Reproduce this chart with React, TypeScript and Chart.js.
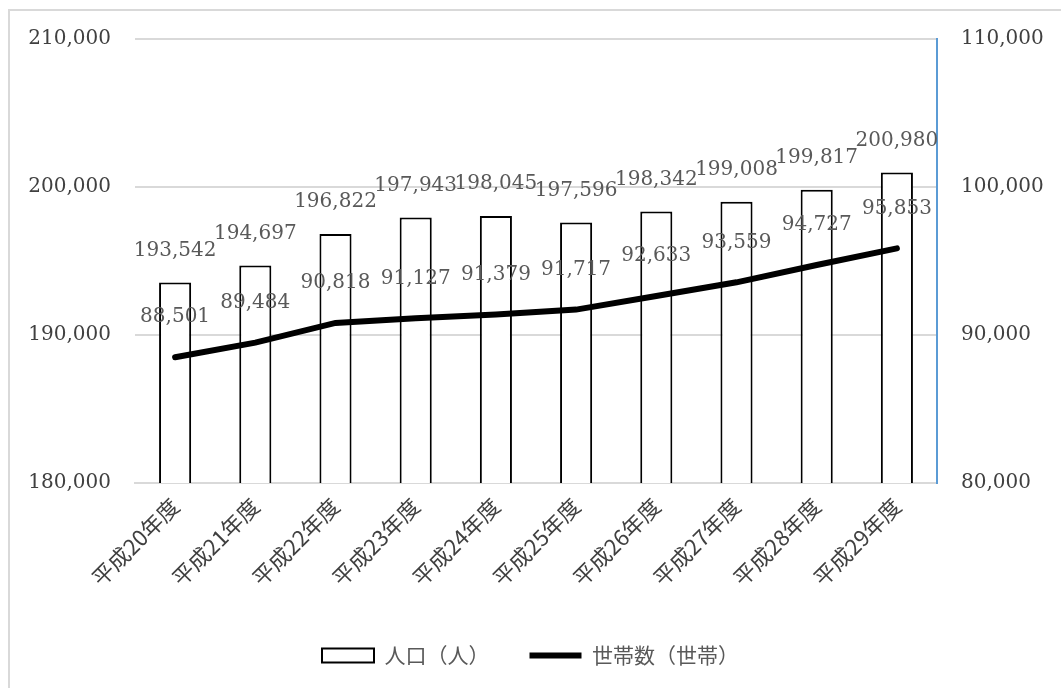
import React, { useEffect, useRef } from "react";
import { Chart, registerables } from "chart.js";

Chart.register(...registerables);

const categories = [
  "平成20年度", "平成21年度", "平成22年度", "平成23年度", "平成24年度",
  "平成25年度", "平成26年度", "平成27年度", "平成28年度", "平成29年度",
];
const population = [193542, 194697, 196822, 197943, 198045, 197596, 198342, 199008, 199817, 200980];
const households = [88501, 89484, 90818, 91127, 91379, 91717, 92633, 93559, 94727, 95853];
const popLabel = "人口（人）";
const hhLabel = "世帯数（世帯）";

const fmt = (v: number) => v.toLocaleString("en-US");

const labelPlugin = {
  id: "valueLabels",
  afterDatasetsDraw(chart: any) {
    const ctx = chart.ctx;
    ctx.save();
    ctx.font = '20px "DejaVu Serif"';
    ctx.fillStyle = "#595959";
    ctx.textAlign = "center";
    ctx.textBaseline = "middle";
    chart.data.datasets.forEach((ds: any, di: number) => {
      const meta = chart.getDatasetMeta(di);
      const off = meta.type === "bar" ? 32 : 40;
      meta.data.forEach((el: any, i: number) => {
        ctx.fillText(fmt(ds.data[i]), el.x, el.y - off);
      });
    });
    ctx.restore();
  },
};

const barBasePlugin = {
  id: "barBase",
  afterDraw(chart: any) {
    const ctx = chart.ctx;
    ctx.save();
    ctx.strokeStyle = "#5b9bd5";
    ctx.lineWidth = 2;
    chart.data.datasets.forEach((_ds: any, di: number) => {
      const meta = chart.getDatasetMeta(di);
      if (meta.type !== "bar") return;
      meta.data.forEach((el: any) => {
        ctx.beginPath();
        ctx.moveTo(el.x - el.width / 2, el.base + 1);
        ctx.lineTo(el.x + el.width / 2, el.base + 1);
        ctx.stroke();
      });
    });
    ctx.restore();
  },
};

export default function App() {
  const ref = useRef<HTMLCanvasElement>(null);
  useEffect(() => {
    if (!ref.current) return;
    const chart = new Chart(ref.current, {
      type: "bar",
      data: {
        labels: categories,
        datasets: [
          {
            type: "bar",
            label: popLabel,
            data: population,
            backgroundColor: "#ffffff",
            borderColor: "#000000",
            borderWidth: 2,
            borderSkipped: "bottom",
            categoryPercentage: 1,
            barPercentage: 0.4,
            yAxisID: "y",
            order: 1,
            pointStyle: "rect",
          } as any,
          {
            type: "line",
            label: hhLabel,
            data: households,
            borderColor: "#000000",
            backgroundColor: "#000000",
            borderWidth: 6,
            borderCapStyle: "round",
            pointRadius: 0,
            tension: 0,
            yAxisID: "y1",
            order: 0,
            pointStyle: "line",
          } as any,
        ],
      },
      options: {
        animation: false,
        responsive: false,
        layout: { padding: { top: 39, bottom: 12, left: 0, right: 0 } },
        plugins: {
          tooltip: { enabled: false },
          legend: {
            position: "bottom",
            labels: {
              usePointStyle: true,
              pointStyleWidth: 52,
              boxHeight: 14,
              padding: 40,
              color: "#595959",
              font: { family: '"Noto Sans CJK JP"', size: 21 },
              sort: (a: any, b: any) => a.datasetIndex - b.datasetIndex,
            },
          },
        },
        scales: {
          x: {
            grid: { display: false, drawTicks: false },
            border: { display: true, color: "#d9d9d9", width: 2 },
            ticks: {
              autoSkip: false,
              maxRotation: 45,
              minRotation: 45,
              padding: 10,
              color: "#404040",
              font: { family: '"Noto Sans CJK JP"', size: 22 },
            },
            afterFit: (s: any) => { s.height = 122; },
          },
          y: {
            position: "left",
            min: 180000,
            max: 210000,
            grid: { color: "#d9d9d9", lineWidth: 2, drawTicks: false },
            border: { display: false },
            ticks: {
              stepSize: 10000,
              padding: 24,
              color: "#404040",
              font: { family: '"DejaVu Serif"', size: 20 },
              callback: (v: any) => fmt(Number(v)),
            },
            afterFit: (s: any) => { s.width = 135; },
          },
          y1: {
            position: "right",
            min: 80000,
            max: 110000,
            grid: { display: false, drawTicks: false },
            border: { display: true, color: "#5b9bd5", width: 2 },
            ticks: {
              stepSize: 10000,
              padding: 24,
              color: "#404040",
              font: { family: '"DejaVu Serif"', size: 20 },
              callback: (v: any) => fmt(Number(v)),
            },
            afterFit: (s: any) => { s.width = 124; },
          },
        },
      },
      plugins: [labelPlugin, barBasePlugin],
    });
    return () => chart.destroy();
  }, []);

  return (
    <div style={{ position: "fixed", left: 0, top: 0, width: 1061, height: 688, overflow: "hidden", background: "#fff" }}>
      <div style={{ position: "absolute", left: 8, top: 9, width: 1200, height: 800, border: "2px solid #d9d9d9" }} />
      <canvas ref={ref} width={1061} height={688} style={{ position: "absolute", left: 0, top: 0 }} />
    </div>
  );
}
